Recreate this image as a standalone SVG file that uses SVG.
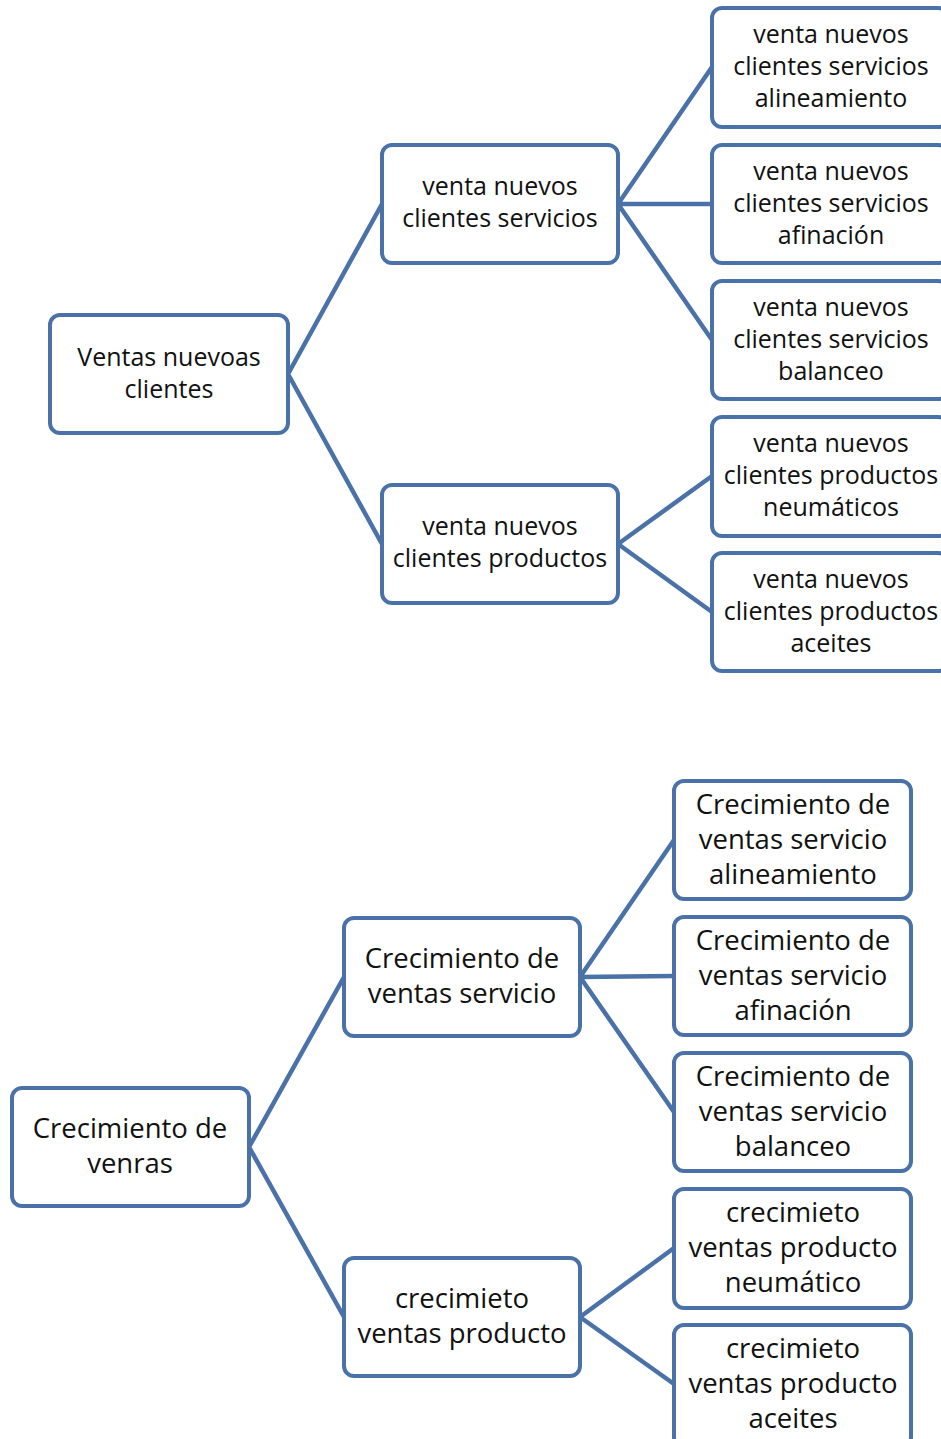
<svg xmlns="http://www.w3.org/2000/svg" width="941" height="1439" viewBox="0 0 941 1439">
<style>
.box{fill:#fff;stroke:#4a72a8;stroke-width:4}
.con{stroke:#4a72a8;stroke-width:4.5;fill:none}
.t1{font-family:"Open Sans","Liberation Sans",Arial,sans-serif;font-size:25px;fill:#111;text-anchor:middle}
.t2{font-family:"Open Sans","Liberation Sans",Arial,sans-serif;font-size:27.5px;fill:#111;text-anchor:middle}
</style>
<rect width="941" height="1439" fill="#fff"/>
<g id="connectors">
<path class="con" d="M288,374 L382,204 M288,374 L382,544 M618,204 L712,67 M618,204 L712,204 M618,204 L712,340 M618,544 L712,476 M618,544 L712,612"/>
<path class="con" d="M249,1147 L344,977 M249,1147 L344,1317 M580,977 L674,840 M580,977 L674,976 M580,977 L674,1112 M580,1317 L674,1248 M580,1317 L674,1384"/>
</g>
<g id="n1"><rect class="box" x="50" y="315" width="238" height="118" rx="10"/><text class="t1" x="169" y="366">Ventas nuevoas</text><text class="t1" x="169" y="398">clientes</text></g>
<g id="n2"><rect class="box" x="382" y="145" width="236" height="118" rx="10"/><text class="t1" x="500" y="195">venta nuevos</text><text class="t1" x="500" y="227">clientes servicios</text></g>
<g id="n3"><rect class="box" x="382" y="485" width="236" height="118" rx="10"/><text class="t1" x="500" y="535">venta nuevos</text><text class="t1" x="500" y="567">clientes productos</text></g>
<g id="n4"><rect class="box" x="712" y="8" width="236" height="119" rx="10"/><text class="t1" x="831" y="43">venta nuevos</text><text class="t1" x="831" y="75">clientes servicios</text><text class="t1" x="831" y="107">alineamiento</text></g>
<g id="n5"><rect class="box" x="712" y="145" width="236" height="118" rx="10"/><text class="t1" x="831" y="180">venta nuevos</text><text class="t1" x="831" y="212">clientes servicios</text><text class="t1" x="831" y="244">afinación</text></g>
<g id="n6"><rect class="box" x="712" y="281" width="236" height="118" rx="10"/><text class="t1" x="831" y="316">venta nuevos</text><text class="t1" x="831" y="348">clientes servicios</text><text class="t1" x="831" y="380">balanceo</text></g>
<g id="n7"><rect class="box" x="712" y="417" width="236" height="119" rx="10"/><text class="t1" x="831" y="452">venta nuevos</text><text class="t1" x="831" y="484">clientes productos</text><text class="t1" x="831" y="516">neumáticos</text></g>
<g id="n8"><rect class="box" x="712" y="553" width="236" height="118" rx="10"/><text class="t1" x="831" y="588">venta nuevos</text><text class="t1" x="831" y="620">clientes productos</text><text class="t1" x="831" y="652">aceites</text></g>
<g id="m1"><rect class="box" x="12" y="1088" width="237" height="118" rx="10"/><text class="t2" x="130" y="1138">Crecimiento de</text><text class="t2" x="130" y="1173">venras</text></g>
<g id="m2"><rect class="box" x="344" y="918" width="236" height="118" rx="10"/><text class="t2" x="462" y="968">Crecimiento de</text><text class="t2" x="462" y="1003">ventas servicio</text></g>
<g id="m3"><rect class="box" x="344" y="1258" width="236" height="118" rx="10"/><text class="t2" x="462" y="1308">crecimieto</text><text class="t2" x="462" y="1343">ventas producto</text></g>
<g id="m4"><rect class="box" x="674" y="781" width="237" height="118" rx="10"/><text class="t2" x="793" y="814">Crecimiento de</text><text class="t2" x="793" y="849">ventas servicio</text><text class="t2" x="793" y="884">alineamiento</text></g>
<g id="m5"><rect class="box" x="674" y="917" width="237" height="118" rx="10"/><text class="t2" x="793" y="950">Crecimiento de</text><text class="t2" x="793" y="985">ventas servicio</text><text class="t2" x="793" y="1020">afinación</text></g>
<g id="m6"><rect class="box" x="674" y="1053" width="237" height="118" rx="10"/><text class="t2" x="793" y="1086">Crecimiento de</text><text class="t2" x="793" y="1121">ventas servicio</text><text class="t2" x="793" y="1156">balanceo</text></g>
<g id="m7"><rect class="box" x="674" y="1189" width="237" height="119" rx="10"/><text class="t2" x="793" y="1222">crecimieto</text><text class="t2" x="793" y="1257">ventas producto</text><text class="t2" x="793" y="1292">neumático</text></g>
<g id="m8"><rect class="box" x="674" y="1325" width="237" height="122" rx="10"/><text class="t2" x="793" y="1358">crecimieto</text><text class="t2" x="793" y="1393">ventas producto</text><text class="t2" x="793" y="1428">aceites</text></g>
</svg>
